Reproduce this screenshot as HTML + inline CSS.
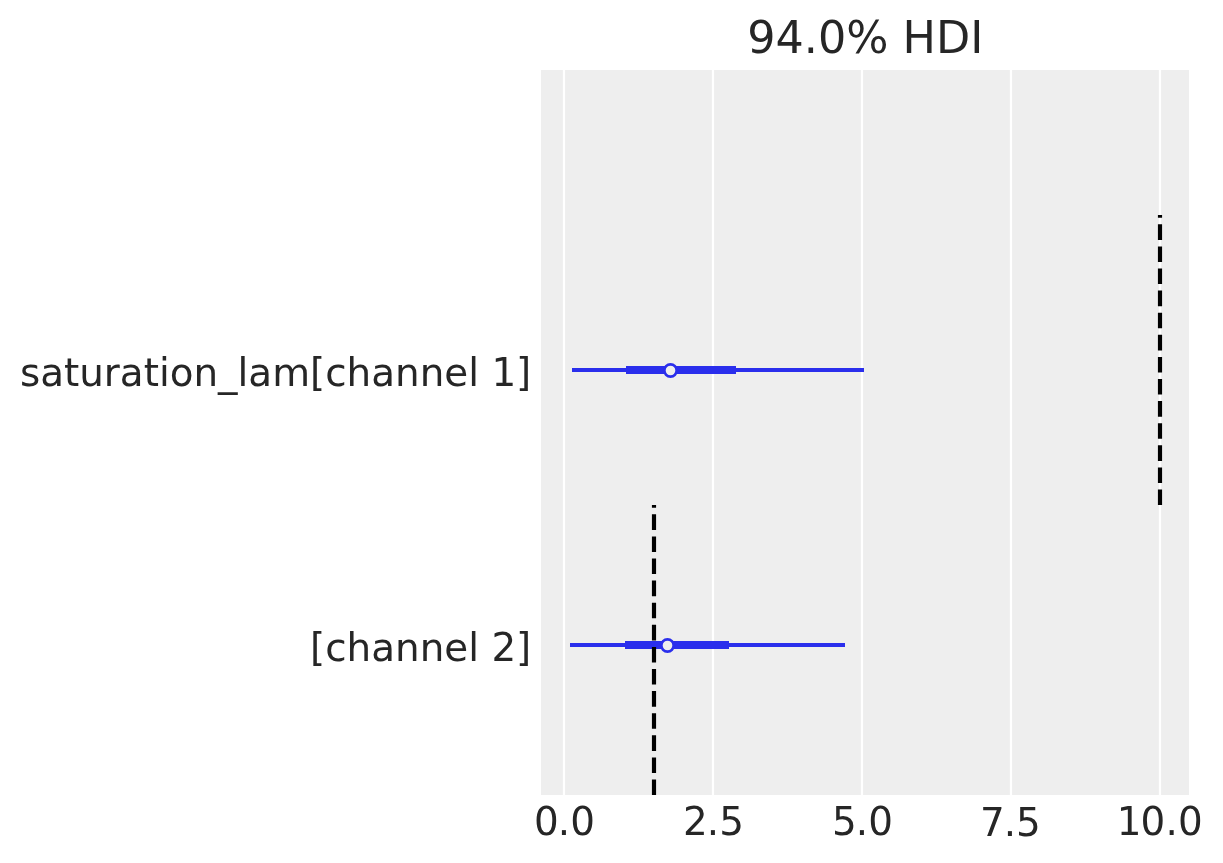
<!DOCTYPE html>
<html lang="en">
<head>
<meta charset="utf-8">
<title>94.0% HDI</title>
<style>
  html, body { margin: 0; padding: 0; background: #ffffff; }
  body { width: 1223px; height: 863px; overflow: hidden; }
  svg { display: block; }
  text { font-family: "DejaVu Sans", "Liberation Sans", sans-serif; fill: #262626; }
  .tick { font-size: 38.89px; }
  .title { font-size: 44.44px; }
</style>
</head>
<body>
<svg width="1223" height="863" viewBox="0 0 1223 863">
  <rect x="0" y="0" width="1223" height="863" fill="#ffffff"/>
  <!-- axes background -->
  <rect x="541" y="70" width="648" height="725" fill="#eeeeee"/>
  <!-- grid lines -->
  <g stroke="#ffffff" stroke-width="2.22" fill="none">
    <line x1="564" y1="70" x2="564" y2="795"/>
    <line x1="713" y1="70" x2="713" y2="795"/>
    <line x1="862" y1="70" x2="862" y2="795"/>
    <line x1="1011" y1="70" x2="1011" y2="795"/>
    <line x1="1160" y1="70" x2="1160" y2="795"/>
  </g>
  <!-- forest rows -->
  <g fill="#2a2eec" stroke="none">
    <rect x="572" y="368" width="292" height="4"/>
    <rect x="626" y="366" width="110" height="8"/>
    <rect x="570" y="643" width="275" height="4"/>
    <rect x="625" y="641" width="104" height="8"/>
  </g>
  <!-- reference dashed lines -->
  <g stroke="#000000" stroke-width="4.17" fill="none" stroke-dasharray="15.6 6.5">
    <line x1="1160" y1="505.1" x2="1160" y2="215"/>
    <line x1="654" y1="795.1" x2="654" y2="505"/>
  </g>
  <!-- markers -->
  <g stroke="#2a2eec" stroke-width="2.78" fill="#eeeeee">
    <circle cx="670.5" cy="370.5" r="6.2"/>
    <circle cx="667.5" cy="645.5" r="6.2"/>
  </g>
  <!-- title -->
  <text class="title" x="865.3" y="53.2" text-anchor="middle">94.0% HDI</text>
  <!-- y labels -->
  <text class="tick" x="531.3" y="386" text-anchor="end">saturation_lam[channel 1]</text>
  <text class="tick" x="531.3" y="661" text-anchor="end">[channel 2]</text>
  <!-- x tick labels -->
  <g class="tick">
    <text x="534 557.8 570.2" y="835.3">0.0</text>
    <text x="683 706.8 719.2" y="835.3">2.5</text>
    <text x="832 855.8 868.2" y="835.3">5.0</text>
    <text x="980.1 1003.8 1016.1" y="836.3">7.5</text>
    <text x="1116.7 1140.45 1165.45 1177.9" y="835.3">10.0</text>
  </g>
</svg>
</body>
</html>
